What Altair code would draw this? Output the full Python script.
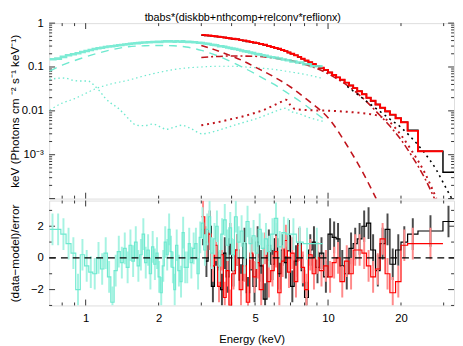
import math
import altair as alt
import pandas as pd

# ---------------- data ----------------
cyan_edges = [0.71, 0.75, 0.79, 0.83, 0.87, 0.91, 0.95, 0.99, 1.03, 1.07,
              1.11, 1.15, 1.19, 1.23, 1.27, 1.31, 1.35, 1.39, 1.43, 1.47,
              1.51, 1.55, 1.59, 1.63, 1.67, 1.71, 1.75, 1.79, 1.83, 1.87,
              1.91, 1.95, 1.99, 2.03, 2.07, 2.11, 2.15, 2.19, 2.23, 2.27,
              2.31, 2.35, 2.40, 2.45, 2.50, 2.55, 2.60, 2.65, 2.70, 2.76,
              2.82, 2.88, 2.94, 3.00, 3.07, 3.14, 3.21, 3.28, 3.36, 3.44,
              3.52, 3.61, 3.70, 3.80, 3.90, 4.00, 4.11, 4.22, 4.34, 4.46,
              4.59, 4.72, 4.86, 5.00, 5.15, 5.30, 5.46, 5.63, 5.80, 6.00,
              6.20, 6.45, 6.70, 7.00, 7.40, 7.90, 8.50]
cyan_end = 9.5
cyan_flux = [0.150, 0.155, 0.170, 0.185, 0.195, 0.205, 0.220, 0.232, 0.245, 0.258,
             0.268, 0.275, 0.285, 0.292, 0.298, 0.305, 0.312, 0.318, 0.325, 0.330,
             0.338, 0.342, 0.348, 0.350, 0.356, 0.362, 0.362, 0.367, 0.366, 0.372,
             0.372, 0.376, 0.374, 0.372, 0.380, 0.384, 0.382, 0.388, 0.384, 0.382,
             0.378, 0.386, 0.380, 0.378, 0.386, 0.376, 0.374, 0.378, 0.370, 0.368,
             0.366, 0.356, 0.356, 0.352, 0.342, 0.340, 0.336, 0.322, 0.318, 0.312,
             0.298, 0.296, 0.290, 0.278, 0.272, 0.262, 0.258, 0.246, 0.238, 0.228,
             0.224, 0.214, 0.207, 0.198, 0.194, 0.186, 0.180, 0.172, 0.167, 0.162,
             0.156, 0.148, 0.142, 0.134, 0.126, 0.116, 0.104]
cyan_resid = [1.8, 1.8, 1.5, 0.9, 0.3, -2.0, 0.2, -0.5, -0.9, -1.0,
              0.0, -0.7, 0.3, -1.2, -2.8, -0.8, 0.4, -0.3, 0.6, -0.6,
              0.8, -0.2, 1.0, -0.5, 0.2, 1.5, -0.3, 0.5, -1.0, 0.7,
              -0.4, 0.3, -1.2, -2.2, -0.5, 1.0, 0.2, 1.8, 0.4, -0.6,
              -2.0, 0.8, -0.8, -1.5, 1.6, -0.6, -0.6, 0.9, -0.3, 0.6,
              0.9, -1.0, 1.3, 2.2, 0.5, 1.8, 2.6, 0.3, 1.2, 2.0,
              -0.5, 1.5, 2.4, 0.8, 1.9, 0.2, 2.6, 1.0, 1.7, 0.0,
              2.3, 0.9, 1.4, 0.3, 1.8, 0.6, 1.2, 0.4, 1.5, 2.5,
              0.7, 1.6, 1.5, 1.5, 1.0, 0.9, 0.9]

red_edges = [3.0, 3.1, 3.2, 3.3, 3.4, 3.5, 3.6, 3.7, 3.8, 3.9,
             4.0, 4.15, 4.3, 4.45, 4.6, 4.75, 4.9, 5.05, 5.2, 5.4,
             5.6, 5.8, 6.0, 6.2, 6.4, 6.6, 6.8, 7.0, 7.25, 7.5,
             7.75, 8.0, 8.3, 8.6, 8.9, 9.2, 9.6, 10.0, 10.4, 10.8,
             11.2, 11.7, 12.2, 12.7, 13.2, 13.8, 14.4, 15.0, 15.7, 16.4,
             17.2, 18.0, 19.0, 20.0, 21.3, 23.5]
red_end = 29.8
red_flux = [0.54, 0.53, 0.52, 0.51, 0.50, 0.49, 0.48, 0.47, 0.46, 0.45,
            0.44, 0.43, 0.41, 0.40, 0.385, 0.37, 0.36, 0.35, 0.335, 0.32,
            0.30, 0.285, 0.27, 0.26, 0.245, 0.23, 0.215, 0.20, 0.185, 0.17,
            0.155, 0.14, 0.128, 0.117, 0.106, 0.096, 0.086, 0.075, 0.066, 0.058,
            0.051, 0.044, 0.038, 0.033, 0.028, 0.024, 0.020, 0.017, 0.014, 0.0118,
            0.0098, 0.0082, 0.0068, 0.0055, 0.0035, 0.0012]
red_resid = [2.6, 1.0, 1.5, -0.5, 0.8, -1.8, 0.2, -2.5, -0.8, -3.0,
             -1.0, 0.5, -2.0, -0.5, -2.8, 0.3, -1.2, -0.3, -2.0, 0.6,
             -1.5, -0.8, 0.4, -2.2, -0.2, 1.1, -0.9, 0.3, -1.5, 0.8,
             -0.6, -2.0, 0.2, -1.0, 0.0, -0.8, -0.5, -1.2, -0.3, 0.0,
             -1.5, -0.2, -1.0, 0.5, 0.5, 0.3, -0.5, -1.2, -0.7, 1.2,
             -1.0, -2.2, -1.5, 0.8, 0.9, 0.9]

black_edges = [3.0, 3.1, 3.2, 3.3, 3.4, 3.5, 3.6, 3.7, 3.8, 3.9,
               4.0, 4.15, 4.3, 4.45, 4.6, 4.75, 4.9, 5.05, 5.2, 5.4,
               5.6, 5.8, 6.0, 6.2, 6.4, 6.6, 6.8, 7.0, 7.25, 7.5,
               7.75, 8.0, 8.3, 8.6, 8.9, 9.2, 9.6, 10.0, 10.4, 10.8,
               11.2, 11.7, 12.2, 12.7, 13.2, 13.8, 14.4, 15.0, 15.7, 16.4,
               17.2, 18.0, 19.0, 20.0, 21.3, 23.5, 29.8]
black_end = 33.1
black_flux = [0.53, 0.525, 0.515, 0.505, 0.495, 0.487, 0.476, 0.468, 0.457, 0.448,
              0.437, 0.427, 0.41, 0.398, 0.383, 0.368, 0.358, 0.347, 0.333, 0.318,
              0.298, 0.284, 0.268, 0.258, 0.244, 0.228, 0.213, 0.199, 0.184, 0.169,
              0.154, 0.139, 0.127, 0.116, 0.105, 0.095, 0.085, 0.075, 0.066, 0.058,
              0.051, 0.044, 0.038, 0.033, 0.028, 0.0238, 0.0199, 0.0168, 0.0139, 0.0117,
              0.0097, 0.0081, 0.0068, 0.0055, 0.0036, 0.0012, 0.00040]
black_resid = [1.8, -0.2, 2.0, -1.8, 0.5, -0.6, -2.0, 0.3, -1.2, 1.2,
               -0.8, 0.5, -1.4, 0.9, -2.2, 0.2, -1.8, 1.0, -0.5, -2.6,
               0.8, -0.4, 1.2, -1.0, 0.5, -0.3, 1.4, -1.8, -0.2, 0.9,
               -0.8, -2.5, 0.5, 1.0, -0.6, 0.3, -1.2, 1.5, 1.3, 1.2,
               -0.5, -1.0, 0.6, 0.9, 1.2, 2.0, 2.2, 0.5, -0.8, 0.9,
               1.8, -0.4, 0.5, 1.0, 1.5, 1.7, 2.3]

# model components (E in keV, E*F_E); each ends where it leaves the frame
cyan_dbb_E = [0.71, 0.8, 0.9, 1.0, 1.1, 1.25, 1.5, 1.75, 2.0, 2.3, 2.6, 3.0,
              3.5, 4.0, 4.5, 5.0, 5.5, 6.0, 6.5, 7.0, 8.0, 9.0, 9.5]
cyan_dbb_v = [0.08, 0.11, 0.14, 0.17, 0.2, 0.24, 0.29, 0.305, 0.31, 0.305, 0.285, 0.24,
              0.18, 0.13, 0.095, 0.07, 0.052, 0.04, 0.03, 0.023, 0.014, 0.0085, 0.0068]
cyan_nth_E = [0.71, 0.8, 0.9, 1.0, 1.1, 1.25, 1.5, 1.75, 2.0, 2.5, 3.0, 3.5,
              4.0, 5.0, 6.0, 7.0, 8.0, 9.5]
cyan_nth_v = [0.0105, 0.015, 0.019, 0.025, 0.032, 0.04, 0.05, 0.063, 0.075, 0.093, 0.1, 0.104,
              0.104, 0.096, 0.088, 0.077, 0.068, 0.055]
cyan_refl_E = [0.71, 0.76, 0.82, 0.88, 0.95, 1.02, 1.09, 1.15, 1.2, 1.27, 1.35, 1.44,
               1.52, 1.62, 1.75, 1.9, 2.05, 2.15, 2.3, 2.5, 2.7, 3.03, 3.4, 3.9,
               4.5, 5.0, 5.6, 6.2, 6.7, 7.0, 7.5, 8.4, 9.5]
cyan_refl_v = [0.052, 0.055, 0.056, 0.05, 0.048, 0.048, 0.037, 0.027, 0.02, 0.015, 0.012, 0.0085,
               0.0062, 0.0047, 0.0046, 0.005, 0.0042, 0.0038, 0.0042, 0.0047, 0.004, 0.003, 0.0034, 0.0043,
               0.0055, 0.0065, 0.0082, 0.0102, 0.0115, 0.0098, 0.0088, 0.007, 0.0058]
red_dbb_E = [3.0, 3.5, 4.0, 4.5, 5.0, 6.0, 7.0, 8.0, 9.0, 10.0, 12.0, 14.0, 15.8]
red_dbb_v = [0.31, 0.235, 0.178, 0.135, 0.10, 0.059, 0.035, 0.02, 0.012, 0.007, 0.0016,
             0.00037, 0.0001]
red_nth_E = [3.0, 4.0, 5.0, 6.0, 7.0, 8.0, 9.0, 10.0, 12.0, 14.0, 16.0, 18.0, 20.0,
             22.0, 25.0, 27.5]
red_nth_v = [0.165, 0.178, 0.175, 0.16, 0.14, 0.115, 0.092, 0.07, 0.038, 0.019, 0.009,
             0.0045, 0.0022, 0.001, 0.0003, 0.0001]
red_refl_E = [3.0, 3.5, 4.0, 4.5, 5.0, 5.5, 6.0, 6.4, 6.7, 7.0, 7.3, 8.0, 9.0, 10.0,
              12.0, 14.0, 16.0, 18.0, 20.0, 22.0, 25.0, 28.0]
red_refl_v = [0.0047, 0.0055, 0.0065, 0.0076, 0.009, 0.0108, 0.0135, 0.016, 0.018, 0.0135,
              0.011, 0.0105, 0.0102, 0.0101, 0.0095, 0.0088, 0.0078, 0.0055, 0.0028, 0.0013,
              0.0004, 0.0001]
blk_dot_E = [12.0, 15.0, 18.0, 20.0, 22.0, 25.0, 28.0, 30.0, 32.4]
blk_dot_v = [0.036, 0.014, 0.0065, 0.0042, 0.0025, 0.0011, 0.00045, 0.00022, 0.0001]

# ticks and labels
x_labels = [1, 2, 5, 10, 20]
x_major = [1, 10]
x_minor = [0.8, 0.9, 2, 3, 4, 5, 6, 7, 8, 9, 20, 30]
ytop_labels = [1, 0.1, 0.01, 0.001]
ytop_major = [1, 0.1, 0.01, 0.001, 0.0001]
ytop_minor = [m * 10.0 ** e for e in range(-4, 0) for m in range(2, 10)]
ybot_labels = [-2, 0, 2]
ybot_major = [-2, 0, 2]
ybot_minor = [-3, -1, 1, 3]

# ---------------- style ----------------
W = 413
H_TOP = 179
H_BOT = 107
FONT = "Liberation Sans"
FS = 11.5
FRAME = "#333333"
CYAN = "#6ee9cf"
CYAN_ERR = "#a6f3e2"
RED = "#ff0000"
RED_ERR = "#ff8a8a"
BLACK = "#000000"
BLACK_ERR = "#4a4a4a"
DRED = "#c0141c"

xscale = alt.Scale(type="log", domain=[0.707, 33.1], nice=False, zero=False)
ytop_scale = alt.Scale(type="log", domain=[1e-4, 1], nice=False, zero=False)
ybot_scale = alt.Scale(domain=[-3.0, 3.62], nice=False, zero=False)

top_axis = alt.Axis(values=ytop_labels,
                    labelExpr="datum.value == 1 ? '1' : datum.value == 0.1 ? '0.1' : datum.value == 0.01 ? '0.01' : '10⁻³'",
                    ticks=False, domain=False, grid=False, labelFontSize=FS, labelColor="black",
                    labelPadding=6, minExtent=28, maxExtent=28,
                    title="keV (Photons cm ⁻² s⁻¹ keV⁻¹)", titleFontSize=12, titleFontWeight="normal",
                    titleColor="black", titlePadding=0)
bot_axis = alt.Axis(values=ybot_labels,
                    labelExpr="datum.value < 0 ? '−' + abs(datum.value) : '' + datum.value",
                    ticks=False, domain=False, grid=False, labelFontSize=FS, labelColor="black",
                    labelPadding=6, minExtent=28, maxExtent=28,
                    title="(data−model)/error", titleFontSize=12, titleFontWeight="normal",
                    titleColor="black", titlePadding=0)
xbot_axis = alt.Axis(values=x_labels, format="~g", ticks=False, domain=False, grid=False,
                     labelFontSize=FS, labelColor="black", labelPadding=7, labelFlush=False,
                     title="Energy (keV)", titleFontSize=FS, titleFontWeight="normal",
                     titleColor="black", titlePadding=10)

X_TOP = alt.X("E:Q", scale=xscale, axis=None)
X_BOT = alt.X("E:Q", scale=xscale, axis=xbot_axis)
Y_TOP = alt.Y("v:Q", scale=ytop_scale, axis=top_axis)
Y_BOT = alt.Y("v:Q", scale=ybot_scale, axis=bot_axis)


def step_df(edges, end, vals):
    return pd.DataFrame({"E": list(edges) + [end], "v": list(vals) + [vals[-1]]})


def err_df(edges, end, vals):
    e = list(edges) + [end]
    c = [math.sqrt(e[i] * e[i + 1]) for i in range(len(vals))]
    return pd.DataFrame({"E": c, "v": [max(r - 1, -3.0) for r in vals],
                         "v2": [min(r + 1, 3.62) for r in vals]})


def curve(E, v, color, dash, width=1.4):
    return alt.Chart(pd.DataFrame({"E": E, "v": v})).mark_line(
        color=color, strokeDash=dash, strokeWidth=width, interpolate="monotone", clip=True
    ).encode(x=X_TOP, y=Y_TOP)


def step_line(df, color, width, X, Y, opacity=1.0):
    return alt.Chart(df).mark_line(
        color=color, strokeWidth=width, interpolate="step-after", clip=True, opacity=opacity
    ).encode(x=X, y=Y)


def tick_layers(X, Y, H, ymaj, ymin):
    L_MAJ, L_MIN = 6, 3
    out = []
    for vals, L in ((x_major, L_MAJ), (x_minor, L_MIN)):
        df = pd.DataFrame({"E": vals})
        out.append(alt.Chart(df).mark_rule(color=FRAME, strokeWidth=1).encode(
            x=X, y=alt.value(0), y2=alt.value(L)))
        out.append(alt.Chart(df).mark_rule(color=FRAME, strokeWidth=1).encode(
            x=X, y=alt.value(H), y2=alt.value(H - L)))
    for vals, L in ((ymaj, L_MAJ), (ymin, L_MIN)):
        df = pd.DataFrame({"v": vals})
        out.append(alt.Chart(df).mark_rule(color=FRAME, strokeWidth=1).encode(
            y=Y, x=alt.value(0), x2=alt.value(L)))
        out.append(alt.Chart(df).mark_rule(color=FRAME, strokeWidth=1).encode(
            y=Y, x=alt.value(W), x2=alt.value(W - L)))
    return out


# ---------------- top panel ----------------
top_layers = tick_layers(X_TOP, Y_TOP, H_TOP, ytop_major, ytop_minor) + [
    curve(cyan_nth_E, cyan_nth_v, CYAN, [1.5, 3], 1.2),
    curve(cyan_refl_E, cyan_refl_v, CYAN, [1.5, 3], 1.4),
    curve(cyan_dbb_E, cyan_dbb_v, CYAN, [8, 6], 1.4),
    curve(red_refl_E, red_refl_v, DRED, [2, 4], 2.0),
    curve(red_nth_E, red_nth_v, DRED, [7, 3, 2, 3], 1.6),
    curve(red_dbb_E, red_dbb_v, DRED, [7, 5], 1.6),
    curve(blk_dot_E, blk_dot_v, BLACK, [2, 4], 1.6),
    step_line(step_df(black_edges, black_end, black_flux), BLACK, 1.5, X_TOP, Y_TOP),
    step_line(step_df(red_edges, red_end, red_flux), RED, 2.0, X_TOP, Y_TOP),
    step_line(step_df(cyan_edges, cyan_end, cyan_flux), CYAN, 2.6, X_TOP, Y_TOP, 0.9),
]
top = alt.layer(*top_layers).properties(
    width=W, height=H_TOP,
    title=alt.TitleParams("tbabs*(diskbb+nthcomp+relconv*reflionx)", fontSize=11,
                          fontWeight="normal", anchor="middle", frame="group", dx=-9,
                          offset=-6, color="black", font=FONT),
)


# ---------------- bottom panel ----------------
def resid_layers(edges, end, vals, color, ecolor):
    e = alt.Chart(err_df(edges, end, vals)).mark_rule(color=ecolor, strokeWidth=2, clip=True).encode(
        x=X_BOT, y=Y_BOT, y2="v2:Q")
    s = step_line(step_df(edges, end, vals), color, 1.2, X_BOT, Y_BOT)
    return [e, s]


zero_df = pd.DataFrame({"E": [0.707, 33.1], "v": [0, 0]})
bot_layers = tick_layers(X_BOT, Y_BOT, H_BOT, ybot_major, ybot_minor) + \
    resid_layers(black_edges, black_end, black_resid, BLACK, BLACK_ERR) + \
    resid_layers(red_edges, red_end, red_resid, RED, RED_ERR) + \
    resid_layers(cyan_edges, cyan_end, cyan_resid, CYAN, CYAN_ERR) + [
    alt.Chart(zero_df).mark_line(color=BLACK, strokeDash=[7, 5], strokeWidth=1.4, clip=True).encode(
        x=X_BOT, y=Y_BOT)
]
bot = alt.layer(*bot_layers).properties(width=W, height=H_BOT)

chart = alt.vconcat(top, bot, spacing=0).properties(padding=0).configure_view(
    stroke=FRAME, strokeWidth=1.3
).configure(font=FONT)

chart.save("out.html", embed_options={"renderer": "svg", "actions": False})
